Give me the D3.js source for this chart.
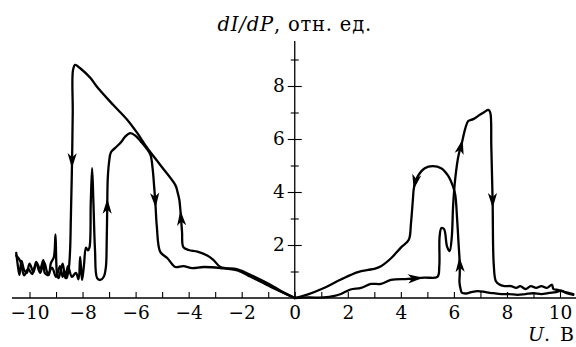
<!DOCTYPE html>
<html><head><meta charset="utf-8">
<script src="https://cdn.jsdelivr.net/npm/d3@7"></script>
<style>
html,body{margin:0;padding:0;background:#fff;}
svg{display:block;}
</style></head>
<body>
<svg id="c" width="576" height="347"></svg>
<script>
// ---- data: [U (V), dI/dP (arb. units)] ----
const leftForward = [[0,0],[-0.5,0.25],[-0.9,0.49],[-1.66,0.87],[-2.16,1.08],[-2.8,1.17],[-3.06,1.43],[-3.3,1.6],[-3.67,1.75],[-4.0,1.81],[-4.2,1.92],[-4.25,2.5],[-4.31,3.3],[-4.35,3.7],[-4.42,4.0],[-4.5,4.26],[-5.07,5.02],[-5.56,5.66],[-5.94,6.23],[-6.31,6.72],[-6.84,7.28],[-7.45,7.96],[-7.7,8.3],[-8.1,8.68],[-8.28,8.8],[-8.36,8.6],[-8.37,7.0],[-8.4,4.94],[-8.44,3.06],[-8.47,1.8],[-8.52,1.1],[-8.6,0.75],[-8.68,1.0],[-8.75,0.8],[-8.85,1.2],[-9.0,0.8],[-9.15,1.15],[-9.3,0.9],[-9.45,1.35],[-9.6,0.95],[-9.75,1.3],[-9.9,0.9],[-10.05,1.1],[-10.2,0.85],[-10.35,1.4],[-10.5,1.6]];
const leftReturn = [[-10.5,1.7],[-10.45,1.3],[-10.38,0.87],[-10.3,1.4],[-10.2,1.05],[-10.1,0.95],[-10.0,1.3],[-9.85,0.98],[-9.75,1.36],[-9.6,1.1],[-9.48,1.43],[-9.42,0.94],[-9.28,0.87],[-9.2,1.3],[-9.08,1.55],[-9.02,2.4],[-8.96,0.9],[-8.9,0.75],[-8.75,1.3],[-8.65,0.75],[-8.55,1.2],[-8.4,0.8],[-8.25,0.95],[-8.15,0.7],[-8.09,1.55],[-8.02,0.68],[-7.95,1.2],[-7.87,1.9],[-7.8,1.8],[-7.74,1.9],[-7.69,3.6],[-7.64,4.9],[-7.59,3.6],[-7.53,1.8],[-7.45,0.75],[-7.33,0.68],[-7.2,0.8],[-7.12,1.17],[-7.09,2.08],[-7.07,3.4],[-7.05,4.5],[-7.0,5.13],[-6.93,5.5],[-6.75,5.68],[-6.55,5.88],[-6.4,6.08],[-6.2,6.22],[-6.0,6.12],[-5.8,5.9],[-5.6,5.66],[-5.44,5.4],[-5.36,4.9],[-5.3,4.2],[-5.25,3.5],[-5.2,2.7],[-5.07,1.74],[-4.8,1.5],[-4.5,1.17],[-4.2,1.2],[-3.86,1.13],[-3.44,1.17],[-2.8,1.13],[-2.16,1.04],[-1.66,0.8],[-0.9,0.42],[0,0]];
const rightForward = [[0,0],[0.5,0.02],[1.1,0.02],[1.5,0.08],[1.74,0.15],[2.1,0.32],[2.5,0.38],[2.87,0.53],[3.25,0.53],[3.63,0.68],[4.27,0.72],[4.88,0.77],[5.38,0.8],[5.45,1.2],[5.46,2.3],[5.53,2.64],[5.63,2.6],[5.74,1.95],[5.84,1.77],[5.92,2.3],[5.97,3.47],[6.05,4.5],[6.17,5.36],[6.3,5.85],[6.43,6.4],[6.54,6.68],[6.73,6.75],[6.96,6.9],[7.15,7.02],[7.3,7.1],[7.37,7.0],[7.41,5.74],[7.46,3.6],[7.5,1.3],[7.58,0.64],[7.7,0.52],[7.9,0.45],[8.15,0.45],[8.35,0.38],[8.5,0.45],[8.7,0.34],[8.9,0.45],[9.1,0.38],[9.3,0.45],[9.5,0.38],[9.7,0.5],[9.75,0.34],[9.95,0.3],[10.2,0.22],[10.5,0.15]];
const rightReturn = [[10.5,0.12],[10.25,0.18],[10.05,0.28],[9.85,0.22],[9.6,0.19],[9.3,0.15],[9.0,0.18],[8.7,0.15],[8.4,0.12],[8.1,0.15],[7.8,0.15],[7.5,0.18],[7.2,0.22],[6.9,0.26],[6.65,0.22],[6.45,0.17],[6.3,0.2],[6.25,0.35],[6.21,0.6],[6.22,0.9],[6.22,1.3],[6.17,2.15],[6.12,3.0],[6.05,3.9],[5.97,4.2],[5.78,4.62],[5.52,4.9],[5.2,4.98],[4.9,4.9],[4.64,4.6],[4.5,4.2],[4.45,3.66],[4.38,2.8],[4.3,2.2],[4.0,1.9],[3.63,1.5],[3.25,1.2],[3.0,1.1],[2.76,1.06],[2.38,0.98],[1.74,0.7],[1.1,0.38],[0.5,0.14],[0,0]];
const branches = [leftForward, leftReturn, rightForward, rightReturn];
// arrow tips: [branch index, U, V]
const arrows = [[0,-4.31,3.3],[0,-8.4,4.9],[1,-7.07,3.75],[1,-5.25,3.4],[2,4.84,0.77],[2,6.28,6.0],[2,7.46,3.4],[3,6.22,1.55],[3,4.5,4.1]];
const xTicks = d3.range(-10, 11, 1);
const yTicks = [1,2,3,4,5,6,7,8,9];
const yLabels = [2,4,6,8];
const titleMath = "dI/dP";
const titleText = ", отн. ед.";
const xTitleMath = "U";
const xTitleText = ". В";

const FONT = '"DejaVu Serif", serif';
const FS = "18.5px";
const svg = d3.select("#c");
const x = d3.scaleLinear().domain([-10, 10]).range([29.5, 560]);
const y = d3.scaleLinear().domain([0, 8]).range([298, 86]);

// x axis
const gx = svg.append("g").attr("transform", `translate(0,${y(0)})`)
  .call(d3.axisBottom(x).tickValues(xTicks).tickSize(-6).tickPadding(8)
    .tickFormat(d => d % 2 === 0 ? d3.format("")(d) : ""));
gx.select(".domain").remove();
gx.attr("font-family", null);
gx.selectAll(".tick line").attr("stroke", "#000").attr("stroke-width", 1.1);
gx.selectAll(".tick text").style("font-family", FONT).style("font-size", FS).attr("fill", "#000");
svg.append("line").attr("x1", x(-10.66)).attr("x2", x(10.7)).attr("y1", y(0)).attr("y2", y(0))
  .attr("stroke", "#000").attr("stroke-width", 1.3);

// y axis
const gy = svg.append("g").attr("transform", `translate(${x(0)},0)`)
  .call(d3.axisLeft(y).tickValues(yTicks).tickSize(7).tickPadding(4)
    .tickFormat(d => yLabels.includes(d) ? d : ""));
gy.select(".domain").remove();
gy.attr("font-family", null);
gy.selectAll(".tick line").attr("stroke", "#000").attr("stroke-width", 1.1)
  .attr("x1", d => yLabels.includes(d) ? 7 : 4).attr("x2", d => yLabels.includes(d) ? -7 : -4);
gy.selectAll(".tick text").style("font-family", FONT).style("font-size", FS).attr("fill", "#000")
  .attr("x", -10);
svg.append("line").attr("x1", x(0)).attr("x2", x(0)).attr("y1", y(0)).attr("y2", y(9.7))
  .attr("stroke", "#000").attr("stroke-width", 1.3);

// titles
const t1 = svg.append("text").attr("x", x(0)).attr("y", 31).attr("text-anchor", "middle")
  .style("font-family", FONT).style("font-size", "19.5px").style("letter-spacing", "0.8px");
t1.append("tspan").style("font-style", "italic").text(titleMath);
t1.append("tspan").text(titleText);
const t2 = svg.append("text").attr("x", 574).attr("y", 341).attr("text-anchor", "end")
  .style("font-family", FONT).style("font-size", "19px").style("word-spacing", "4px");
t2.append("tspan").style("font-style", "italic").text(xTitleMath);
t2.append("tspan").text(xTitleText);

// curves
const line = d3.line().x(d => x(d[0])).y(d => y(d[1])).curve(d3.curveCatmullRom.alpha(0.5));
const paths = branches.map(b => svg.append("path").datum(b).attr("d", line)
  .attr("fill", "none").attr("stroke", "#000").attr("stroke-width", 2.3)
  .attr("stroke-linejoin", "round").attr("stroke-linecap", "round").node());

// arrowheads along the curves
arrows.forEach(([bi, u, v]) => {
  const p = paths[bi], total = p.getTotalLength();
  const tx = x(u), ty = y(v);
  let best = 0, bd = Infinity;
  for (let l = 0; l <= total; l += 0.5) {
    const q = p.getPointAtLength(l);
    const dd = (q.x - tx) ** 2 + (q.y - ty) ** 2;
    if (dd < bd) { bd = dd; best = l; }
  }
  const a = p.getPointAtLength(best), b = p.getPointAtLength(Math.max(0, best - 6));
  const ang = Math.atan2(a.y - b.y, a.x - b.x) * 180 / Math.PI;
  svg.append("path").attr("d", "M0,0 L-15,-4.6 L-11,0 L-15,4.6 Z")
    .attr("transform", `translate(${a.x},${a.y}) rotate(${ang})`).attr("fill", "#000");
});
</script>
</body></html>
